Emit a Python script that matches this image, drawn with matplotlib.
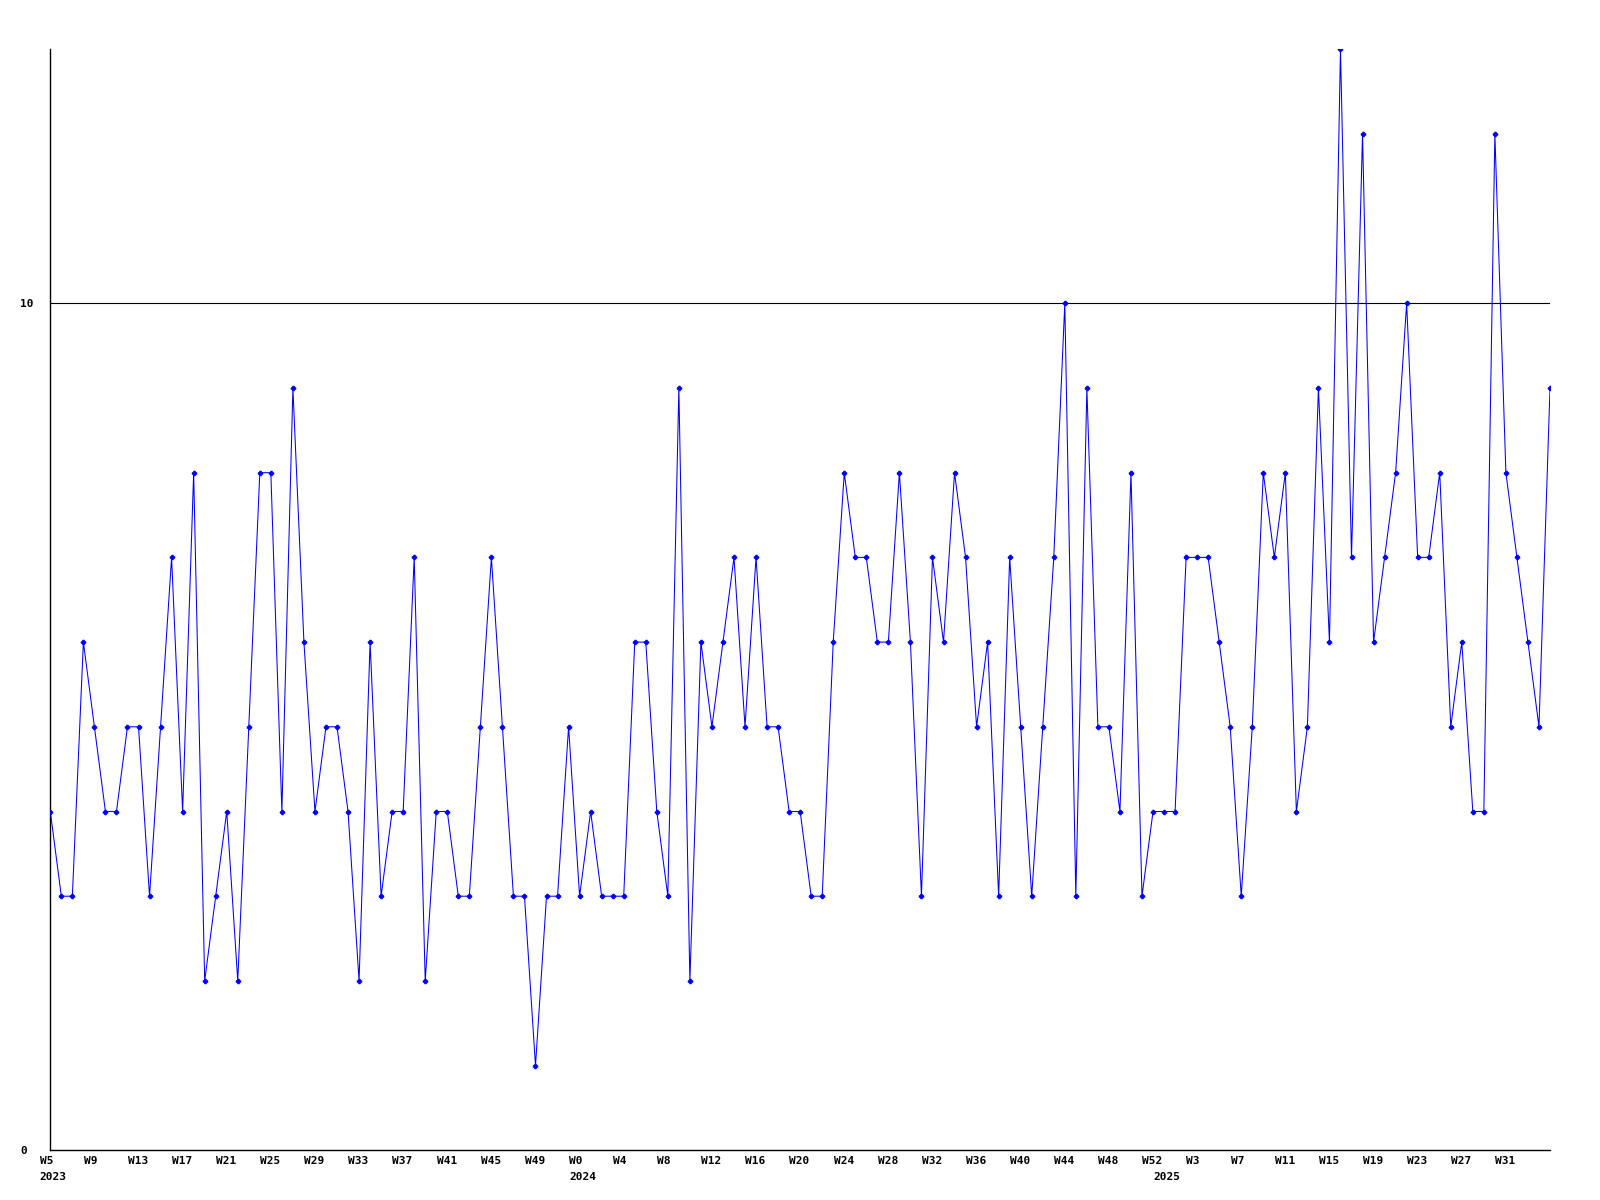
"""
Weekly counts, 2023 W5 to 2025 W35
"""
import matplotlib
matplotlib.use('Agg')
import matplotlib.pyplot as plt
import matplotlib.transforms as mtransforms

# weekly values
counts = [4, 3, 3, 6, 5, 4, 4, 5, 5, 3,
          5, 7, 4, 8, 2, 3, 4, 2, 5, 8,
          8, 4, 9, 6, 4, 5, 5, 4, 2, 6,
          3, 4, 4, 7, 2, 4, 4, 3, 3, 5,
          7, 5, 3, 3, 1, 3, 3, 5, 3, 4,
          3, 3, 3, 6, 6, 4, 3, 9, 2, 6,
          5, 6, 7, 5, 7, 5, 5, 4, 4, 3,
          3, 6, 8, 7, 7, 6, 6, 8, 6, 3,
          7, 6, 8, 7, 5, 6, 3, 7, 5, 3,
          5, 7, 10, 3, 9, 5, 5, 4, 8, 3,
          4, 4, 4, 7, 7, 7, 6, 5, 3, 5,
          8, 7, 8, 4, 5, 9, 6, 13, 7, 12,
          6, 7, 8, 10, 7, 7, 8, 5, 6, 4,
          4, 12, 8, 7, 6, 5, 9]

# (year, week) for every point
weeks = ([(2023, w) for w in range(5, 53)]
         + [(2024, w) for w in range(0, 53)]
         + [(2025, w) for w in range(0, 36)])

tick_every = 4
last_tick = 132
y_ticks = [0, 10]
ref_line = 10

font = dict(family='DejaVu Sans Mono', weight='bold', size=8)

fig = plt.figure(figsize=(16, 12), dpi=100)
ax = fig.add_axes([50.3/1600, 49.7/1200, 1499.7/1600, 1101.1/1200])

x = list(range(len(counts)))
ax.plot(x, counts, color='#0000ff', lw=0.75, marker='P', ms=3, zorder=3)
ax.axhline(ref_line, color='black', lw=0.8, zorder=2)

ax.set_xlim(0, len(counts) - 1)
ax.set_ylim(0, max(counts))

for s in ['top', 'right']:
    ax.spines[s].set_visible(False)
for s in ['left', 'bottom']:
    ax.spines[s].set_color('black')
    ax.spines[s].set_linewidth(1.0)

# y axis: labels left aligned at the figure edge
ax.set_yticks(y_ticks)
ax.set_yticklabels([str(v) for v in y_ticks], fontdict=font)
ax.tick_params(axis='y', length=0, pad=21.6)
for lbl in ax.get_yticklabels():
    lbl.set_ha('left')

# x axis: week labels every 4 points
tick_idx = list(range(0, last_tick + 1, tick_every))
ax.set_xticks(tick_idx)
ax.set_xticklabels([f"W{weeks[i][1]}" for i in tick_idx], fontdict=font)
ax.tick_params(axis='x', length=0, pad=4)
shift = mtransforms.ScaledTranslation(-10.7/100, 0, fig.dpi_scale_trans)
for lbl in ax.get_xticklabels():
    lbl.set_ha('left')
    lbl.set_transform(lbl.get_transform() + shift)

# year labels under the first week of each year
seen = set()
for i, (yr, wk) in enumerate(weeks):
    if yr not in seen:
        seen.add(yr)
        ax.annotate(str(yr), xy=(i, 0), xycoords=('data', 'axes fraction'),
                    xytext=(-10.7*0.72, -27*0.72), textcoords='offset points',
                    ha='left', va='center', **font)

fig.savefig('out.png', dpi=100)
